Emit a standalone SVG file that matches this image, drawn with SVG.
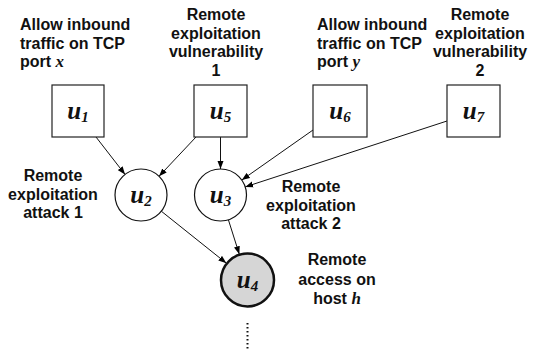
<svg xmlns="http://www.w3.org/2000/svg" width="534" height="351" viewBox="0 0 534 351">
<defs>
<marker id="ah" markerWidth="9" markerHeight="7" refX="8" refY="3.5" orient="auto" markerUnits="userSpaceOnUse">
<path d="M0,0.5 L8,3.5 L0,6.5 z" fill="#000"/>
</marker>
<style>
.lbl{font-family:"Liberation Sans",Arial,sans-serif;font-weight:bold;font-size:16px;fill:#111}
.c{text-anchor:middle}
.var{font-family:"Liberation Serif","Times New Roman",serif;font-style:italic;font-weight:bold;font-size:17px}
.nd{font-family:"Liberation Serif","Times New Roman",serif;font-style:italic;font-weight:bold;font-size:25px;fill:#111;text-anchor:middle}
.sub{font-size:15px}
.box{fill:#fff;stroke:#222;stroke-width:1.2}
.cir{fill:#fff;stroke:#111;stroke-width:1.2}
.edge{stroke:#111;stroke-width:1;fill:none;marker-end:url(#ah)}
</style>
</defs>
<rect width="534" height="351" fill="#fff"/>

<g id="connectors">
<line class="edge" x1="96" y1="137" x2="125.1" y2="174.5"/>
<line class="edge" x1="196" y1="137" x2="159" y2="176.3"/>
<line class="edge" x1="220.5" y1="137" x2="220.5" y2="169"/>
<line class="edge" x1="313" y1="130" x2="241.8" y2="180"/>
<line class="edge" x1="447" y1="121" x2="245.2" y2="186.9"/>
<line class="edge" x1="161.3" y1="211.2" x2="226.4" y2="263.2"/>
<line class="edge" x1="228.4" y1="219.8" x2="239.3" y2="254.3"/>
<line x1="247.5" y1="323" x2="247.5" y2="351" stroke="#111" stroke-width="2" stroke-dasharray="1.6 2.4"/>
</g>

<g id="u1">
<rect class="box" x="52" y="85" width="52" height="52"/>
<text class="nd" x="78" y="119">u<tspan class="sub" dy="3">1</tspan></text>
<text class="lbl" x="20" y="30">Allow inbound</text>
<text class="lbl" x="20" y="48.5">traffic on TCP</text>
<text class="lbl" x="20" y="67">port <tspan class="var">x</tspan></text>
</g>

<g id="u5">
<rect class="box" x="194" y="85" width="53" height="52"/>
<text class="nd" x="220.5" y="119">u<tspan class="sub" dy="3">5</tspan></text>
<text class="lbl c" x="216" y="20">Remote</text>
<text class="lbl c" x="216" y="38.5">exploitation</text>
<text class="lbl c" x="216" y="57">vulnerability</text>
<text class="lbl c" x="216" y="75.5">1</text>
</g>

<g id="u6">
<rect class="box" x="313" y="85" width="54" height="52"/>
<text class="nd" x="340" y="119">u<tspan class="sub" dy="3">6</tspan></text>
<text class="lbl" x="317" y="30">Allow inbound</text>
<text class="lbl" x="317" y="48.5">traffic on TCP</text>
<text class="lbl" x="317" y="67">port <tspan class="var">y</tspan></text>
</g>

<g id="u7">
<rect class="box" x="447" y="85" width="53" height="52"/>
<text class="nd" x="473.5" y="119">u<tspan class="sub" dy="3">7</tspan></text>
<text class="lbl c" x="480" y="20">Remote</text>
<text class="lbl c" x="480" y="38.5">exploitation</text>
<text class="lbl c" x="480" y="57">vulnerability</text>
<text class="lbl c" x="480" y="75.5">2</text>
</g>

<g id="u2">
<circle class="cir" cx="141" cy="195" r="26"/>
<text class="nd" x="141" y="203">u<tspan class="sub" dy="3">2</tspan></text>
<text class="lbl c" x="53" y="181">Remote</text>
<text class="lbl c" x="53" y="199.5">exploitation</text>
<text class="lbl c" x="53" y="218">attack 1</text>
</g>

<g id="u3">
<circle class="cir" cx="220.5" cy="195" r="26"/>
<text class="nd" x="220.5" y="203">u<tspan class="sub" dy="3">3</tspan></text>
<text class="lbl c" x="311" y="192">Remote</text>
<text class="lbl c" x="311" y="210.5">exploitation</text>
<text class="lbl c" x="311" y="229">attack 2</text>
</g>

<g id="u4">
<circle cx="247.5" cy="280" r="26.5" fill="#d6d6d6" stroke="#111" stroke-width="2.5"/>
<text class="nd" x="247.5" y="288">u<tspan class="sub" dy="3">4</tspan></text>
<text class="lbl c" x="337" y="265">Remote</text>
<text class="lbl c" x="337" y="285">access on</text>
<text class="lbl c" x="337" y="304">host <tspan class="var">h</tspan></text>
</g>
</svg>
